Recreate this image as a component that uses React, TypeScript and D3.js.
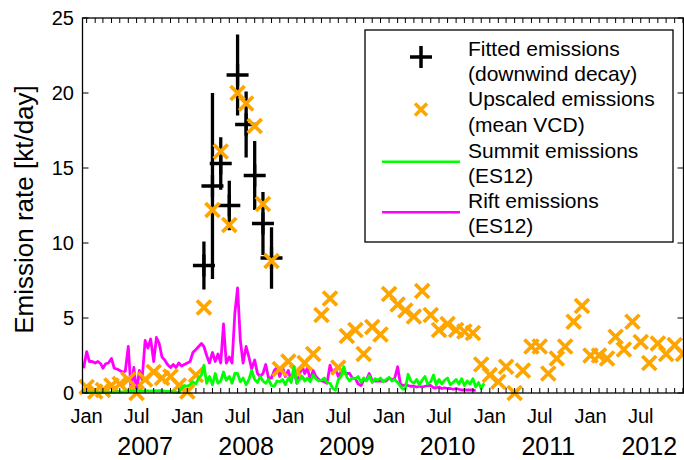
import React from "react";
import * as d3 from "d3";

const W = 684;
const H = 460;
const FONT = "'Liberation Sans', Arial, Helvetica, sans-serif";

// y axis
const yTicks = [0, 5, 10, 15, 20, 25];
const yLabel = "Emission rate [kt/day]";
const yearLabels = [2007, 2008, 2009, 2010, 2011, 2012];
const halfYearNames = ["Jan", "Jul"];

// Fitted emissions (downwind decay), first of month, with 1-sigma errors
const fittedDates = [
  "2008-03-01", "2008-04-01", "2008-05-01", "2008-06-01", "2008-07-01",
  "2008-08-01", "2008-09-01", "2008-10-01", "2008-11-01",
];
const fittedValues = [8.5, 13.8, 15.3, 12.5, 21.2, 17.9, 14.5, 11.3, 9.0];
const fittedErrors = [1.6, 6.2, 1.75, 1.65, 2.7, 2.2, 2.3, 2.1, 2.05];

// Upscaled emissions (mean VCD), monthly from Jan 2007
const upscaled2007 = [0.4, 0.1, 0.2, 0.5, 0.6, 0.9, 0.0, 0.9, 1.4, 1.0, 1.1, 0.5];
const upscaled2008 = [0.1, 1.2, 5.7, 12.2, 16.1, 11.2, 20.0, 19.3, 17.8, 12.6, 8.8, 1.6];
const upscaled2009 = [2.1, 1.4, 2.0, 2.6, 5.2, 6.3, 1.7, 3.8, 4.2, 2.6, 4.4, 3.9];
const upscaled2010 = [6.6, 5.9, 5.5, 5.1, 6.8, 5.2, 4.2, 4.6, 4.2, 4.1, 4.0, 1.9];
const upscaled2011 = [1.2, 0.75, 1.75, 0.0, 1.5, 3.1, 3.1, 1.3, 2.3, 3.1, 4.75, 5.8];
const upscaled2012 = [2.5, 2.5, 2.3, 3.75, 2.9, 4.75, 3.4, 2.0, 3.3, 2.6, 3.2, 2.6];

// ES12 summit emissions, sampled on the 1st, 11th and 21st of each month from 21 Dec 2006
const summit2006 = [0.05];
const summit2007 = [
  0.05, 0.05, 0.05, 0.05, 0.05, 0.05, 0.05, 0.06, 0.06, 0.06, 0.06, 0.07,
  0.07, 0.08, 0.08, 0.1, 0.1, 0.12, 0.12, 0.13, 0.13, 0.15, 0.14, 0.13,
  0.15, 0.14, 0.16, 0.15, 0.12, 0.1, 0.1, 0.08, 0.05, 0.02, 0.3, 0.5,
];
const summit2008 = [
  0.45, 0.55, 0.75, 0.6, 1.0, 1.2, 1.85, 0.65, 1.1, 0.55, 1.3, 0.65,
  0.8, 1.4, 0.85, 1.1, 0.65, 1.3, 1.3, 0.75, 1.0, 0.55, 0.9, 1.5,
  0.9, 0.7, 1.1, 0.8, 0.65, 0.9, 0.5, 0.45, 0.8, 0.75, 0.9, 0.55,
];
const summit2009 = [
  1.0, 0.7, 1.75, 0.65, 0.9, 1.1, 0.8, 1.0, 0.75, 1.2, 0.95, 0.8,
  0.85, 1.0, 0.7, 0.65, 0.3, 0.2, 0.9, 1.1, 1.75, 1.05, 0.8, 1.0,
  0.95, 1.1, 0.7, 1.0, 0.8, 1.15, 0.7, 0.95, 0.85, 1.0, 0.75, 0.9,
];
const summit2010 = [
  1.05, 0.8, 0.9, 0.7, 0.45, 0.25, 0.3, 1.25, 0.8, 0.65, 0.9, 0.55,
  0.85, 1.1, 0.6, 0.75, 1.2, 0.55, 0.9, 0.6, 0.85, 1.0, 0.55, 0.7,
  0.9, 0.6, 0.95, 0.5, 0.8, 0.6, 0.95, 0.4, 0.7, 0.3, 0.65,
];

// ES12 rift emissions, same sampling
const rift2006 = [1.65];
const rift2007 = [
  2.75, 2.1, 2.1, 2.0, 2.1, 1.95, 1.65, 1.95, 2.0, 2.3, 1.65, 1.6,
  1.5, 1.4, 1.45, 3.1, 0.15, 1.7, 0.05, 1.5, 0.9, 3.5, 3.0, 3.6,
  2.1, 3.7, 3.3, 2.4, 2.2, 1.9, 1.7, 1.9, 1.7, 2.0, 1.8, 1.9,
];
const rift2008 = [
  2.0, 2.1, 2.7, 2.9, 3.1, 3.3, 3.1, 2.5, 2.0, 2.7, 2.1, 2.6,
  2.0, 4.6, 2.0, 2.4, 2.0, 5.3, 7.0, 3.5, 2.0, 3.1, 2.4, 1.6,
  2.2, 1.3, 1.1, 1.3, 1.9, 1.0, 1.0, 1.5, 1.7, 1.1, 1.7, 1.1,
];
const rift2009 = [
  1.5, 0.8, 1.5, 0.65, 1.3, 1.75, 1.3, 1.65, 0.9, 1.5, 1.1, 0.9,
  0.8, 0.75, 0.65, 1.85, 1.3, 1.6, 1.1, 1.4, 1.3, 1.3, 1.3, 1.0,
  0.95, 0.6, 0.5, 0.85, 0.9, 1.3, 0.85, 0.8, 0.8, 0.8, 0.8, 0.8,
];
const rift2010 = [
  1.0, 0.9, 0.95, 1.75, 0.6, 0.5, 0.55, 0.5, 0.45, 0.45, 0.4, 0.45,
  0.4, 0.45, 0.5, 0.5, 0.35, 0.35, 0.4, 0.3, 0.35, 0.3, 0.3, 0.25,
  0.3, 0.25, 0.2, 0.2, 0.2, 0.2, 0.2, 0.15,
];

const legendItems = [
  { kind: "plus", color: "#000000", lines: ["Fitted emissions", "(downwind decay)"] },
  { kind: "cross", color: "#FFA500", lines: ["Upscaled emissions", "(mean VCD)"] },
  { kind: "line", color: "#00FF00", lines: ["Summit emissions", "(ES12)"] },
  { kind: "line", color: "#FF00FF", lines: ["Rift emissions", "(ES12)"] },
];

const frame = { left: 82.5, right: 683.5, top: 18, bottom: 393 };

const x = d3
  .scaleTime()
  .domain([new Date(2006, 11, 17), new Date(2012, 11, 3)])
  .range([frame.left, frame.right]);
const y = d3.scaleLinear().domain([0, 25]).range([frame.bottom, frame.top]);

const tenDayDate = (i: number) => {
  // index 0 = 21 Dec 2006, then 1st/11th/21st of each month
  const k = i + 2;
  return new Date(2006, 11 + Math.floor(k / 3), [1, 11, 21][k % 3]);
};

const summit = [...summit2006, ...summit2007, ...summit2008, ...summit2009, ...summit2010];
const rift = [...rift2006, ...rift2007, ...rift2008, ...rift2009, ...rift2010];
const upscaled = [
  ...upscaled2007, ...upscaled2008, ...upscaled2009,
  ...upscaled2010, ...upscaled2011, ...upscaled2012,
];

const line = d3
  .line<number>()
  .x((_, i) => x(tenDayDate(i)))
  .y((v) => y(v));

const parse = d3.timeParse("%Y-%m-%d");

export default function App() {
  const months = d3.timeMonth.range(new Date(2007, 0, 1), new Date(2012, 11, 2));
  const crossHalf = 7;
  const plusHalf = 11;
  const legend = { x0: 365, y0: 30, x1: 673, y1: 242 };
  const lineH = 25.2;

  return (
    <svg width={W} height={H} style={{ display: "block", position: "absolute", left: 0, top: 0 }}>
      <rect x={0} y={0} width={W} height={H} fill="#ffffff" />

      {/* series */}
      <path d={line(rift) ?? ""} fill="none" stroke="#FF00FF" strokeWidth={2.8} strokeLinejoin="round" />

      {fittedValues.map((v, i) => {
        const d = parse(fittedDates[i]) as Date;
        const cx = x(d);
        const cy = y(v);
        return (
          <g key={"f" + i} stroke="#000" strokeWidth={3.3} fill="none">
            <path d={`M${cx},${y(v - fittedErrors[i])}V${y(v + fittedErrors[i])}`} />
            <path d={`M${cx - plusHalf},${cy}H${cx + plusHalf}M${cx},${cy - plusHalf}V${cy + plusHalf}`} />
          </g>
        );
      })}

      {upscaled.map((v, i) => {
        const cx = x(d3.timeMonth.offset(new Date(2007, 0, 1), i));
        const cy = y(v);
        return (
          <path
            key={"u" + i}
            d={`M${cx - crossHalf},${cy - crossHalf}L${cx + crossHalf},${cy + crossHalf}M${cx - crossHalf},${cy + crossHalf}L${cx + crossHalf},${cy - crossHalf}`}
            stroke="#FFA500"
            strokeWidth={3.8}
            fill="none"
          />
        );
      })}

      <path d={line(summit) ?? ""} fill="none" stroke="#00FF00" strokeWidth={2.8} strokeLinejoin="round" />

      {/* frame and ticks */}
      <rect
        x={frame.left}
        y={frame.top}
        width={frame.right - frame.left}
        height={frame.bottom - frame.top}
        fill="none"
        stroke="#000"
        strokeWidth={1.3}
      />
      {months.map((m, i) => (
        <g key={"mt" + i} stroke="#000" strokeWidth={1}>
          <line x1={x(m)} x2={x(m)} y1={frame.bottom} y2={frame.bottom - 5} />
          <line x1={x(m)} x2={x(m)} y1={frame.top} y2={frame.top + 5} />
        </g>
      ))}
      {yTicks.map((t) => (
        <g key={"yt" + t}>
          <line x1={frame.left} x2={frame.left + 6} y1={y(t)} y2={y(t)} stroke="#000" />
          <line x1={frame.right} x2={frame.right - 6} y1={y(t)} y2={y(t)} stroke="#000" />
          <text
            x={74}
            y={y(t)}
            textAnchor="end"
            dominantBaseline="central"
            fontFamily={FONT}
            fontSize={20}
          >
            {t}
          </text>
        </g>
      ))}

      {months
        .filter((m) => m.getMonth() === 0 || m.getMonth() === 6)
        .map((m, i) => (
          <text
            key={"ml" + i}
            x={x(m)}
            y={423}
            textAnchor="middle"
            fontFamily={FONT}
            fontSize={20}
          >
            {halfYearNames[m.getMonth() === 0 ? 0 : 1]}
          </text>
        ))}
      {yearLabels.map((yr) => (
        <text
          key={"yr" + yr}
          x={x(new Date(yr, 7, 1))}
          y={454.5}
          textAnchor="middle"
          fontFamily={FONT}
          fontSize={25}
        >
          {yr}
        </text>
      ))}

      <text
        transform={`translate(33,${(frame.top + frame.bottom) / 2 + 4}) rotate(-90)`}
        textAnchor="middle"
        fontFamily={FONT}
        fontSize={26}
      >
        {yLabel}
      </text>

      {/* legend */}
      <rect
        x={legend.x0}
        y={legend.y0}
        width={legend.x1 - legend.x0}
        height={legend.y1 - legend.y0}
        fill="#fff"
        stroke="#000"
        strokeWidth={1.3}
      />
      {legendItems.map((item, i) => {
        const base = 56 + i * 2 * lineH + (i > 1 ? 1 : 0);
        const my = base - 3;
        const mx = 421;
        let marker = null;
        if (item.kind === "plus") {
          marker = (
            <path
              d={`M${mx - 11},${my + 4}H${mx + 11}M${mx},${my - 7}V${my + 15}`}
              stroke={item.color}
              strokeWidth={3.5}
            />
          );
        } else if (item.kind === "cross") {
          marker = (
            <path
              d={`M${mx - 6},${my + 0}L${mx + 6},${my + 12}M${mx - 6},${my + 12}L${mx + 6},${my}`}
              stroke={item.color}
              strokeWidth={3.5}
            />
          );
        } else {
          marker = (
            <line x1={382} x2={460} y1={my + 7} y2={my + 7} stroke={item.color} strokeWidth={2.5} />
          );
        }
        return (
          <g key={"lg" + i}>
            {marker}
            {item.lines.map((t, j) => (
              <text key={j} x={468} y={base + j * lineH} fontFamily={FONT} fontSize={21}>
                {t}
              </text>
            ))}
          </g>
        );
      })}
    </svg>
  );
}
